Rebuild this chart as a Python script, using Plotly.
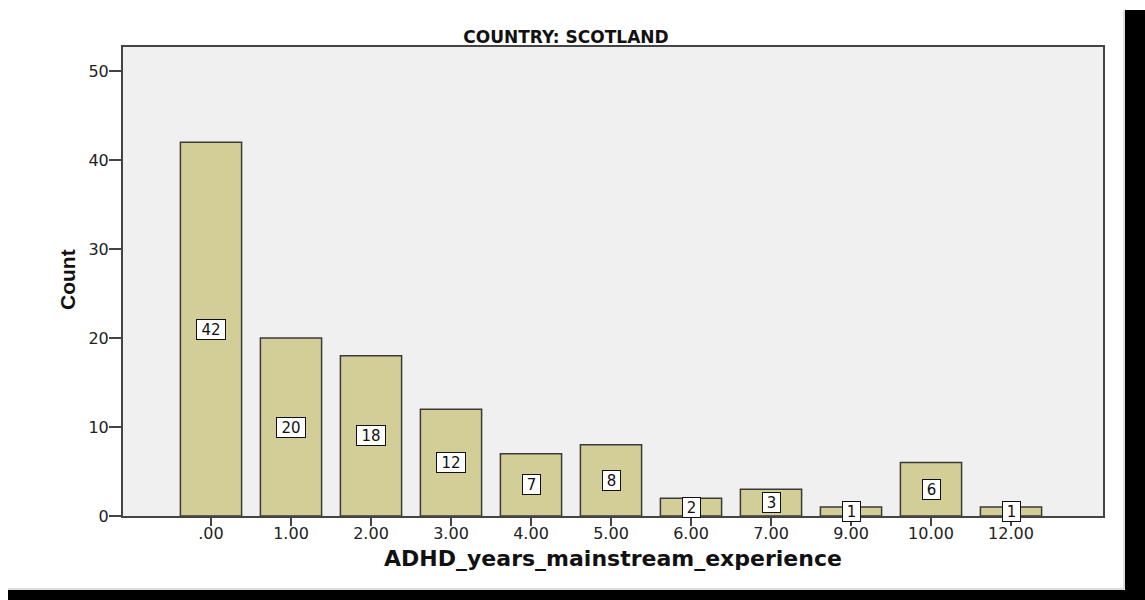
import plotly.graph_objects as go

# ---- data ----
categories = [".00", "1.00", "2.00", "3.00", "4.00", "5.00", "6.00", "7.00", "9.00", "10.00", "12.00"]
counts = [42, 20, 18, 12, 7, 8, 2, 3, 1, 6, 1]
y_ticks = [0, 10, 20, 30, 40, 50]

title_text = "COUNTRY: SCOTLAND"
x_title = "ADHD_years_mainstream_experience"
y_title = "Count"

W, H = 1145, 600
L, R, T, B = 123, 1103, 47, 516   # plot area in pixels


def px(x):
    return (x - L) / (R - L)


def py(y):
    return (B - y) / (B - T)


fig = go.Figure()
fig.add_trace(go.Bar(
    x=categories,
    y=counts,
    width=0.765,
    marker=dict(color="#D3CE98", line=dict(color="#3A3A3A", width=1.5)),
    hoverinfo="x+y",
))

# boxed value labels at the middle of each bar (category index positions)
for i, v in enumerate(counts):
    fig.add_annotation(
        x=i, y=v / 2, xref="x", yref="y",
        text=str(v), showarrow=False,
        width=24 if len(str(v)) > 1 else 13, height=15,
        font=dict(family="DejaVu Sans, Arial", size=15, color="#111111"),
        bgcolor="#FFFFFF", bordercolor="#111111", borderwidth=1, borderpad=2,
    )

# y axis title as rotated text
fig.add_annotation(
    x=px(67), y=py(280), xref="paper", yref="paper",
    text="<b>" + y_title + "</b>", textangle=-90, showarrow=False,
    font=dict(family="Liberation Sans Narrow, Arial Narrow, Liberation Sans, Arial", size=21, color="#111111"),
    xanchor="center", yanchor="middle",
)

# frame decoration (black bars at right and bottom)
fig.add_shape(type="line", xref="paper", yref="paper",
              x0=px(1124), x1=px(1124), y0=py(589), y1=py(10),
              line=dict(color="#BBBBBB", width=1))
fig.add_shape(type="line", xref="paper", yref="paper",
              x0=px(8), x1=px(1124), y0=py(589), y1=py(589),
              line=dict(color="#BBBBBB", width=1))
fig.add_shape(type="rect", xref="paper", yref="paper",
              x0=px(1125), x1=px(1145), y0=py(590), y1=py(10),
              fillcolor="#000000", line=dict(width=0), layer="above")
fig.add_shape(type="rect", xref="paper", yref="paper",
              x0=px(8), x1=px(1145), y0=py(600), y1=py(590),
              fillcolor="#000000", line=dict(width=0), layer="above")

fig.update_layout(
    width=W, height=H,
    margin=dict(l=L, r=W - R, t=T, b=H - B, autoexpand=False),
    paper_bgcolor="#FFFFFF",
    plot_bgcolor="#F0F0F0",
    showlegend=False,
    bargap=0.2,
    title=dict(
        text="<b>" + title_text + "</b>",
        x=px(566), xref="paper", xanchor="center",
        y=1 - 37 / H, yref="container", yanchor="middle",
        font=dict(family="DejaVu Sans, Arial", size=17, color="#111111"),
    ),
    xaxis=dict(
        type="category",
        categoryorder="array", categoryarray=categories,
        range=[-1.1, 11.15],
        showline=True, linecolor="#444444", linewidth=2, mirror=True,
        ticks="outside", ticklen=8, tickwidth=2, tickcolor="#444444",
        ticklabelstandoff=-6,
        showgrid=False, zeroline=False,
        tickfont=dict(family="DejaVu Sans, Arial", size=16, color="#222222"),
        title=dict(text="<b>" + x_title + "</b>", standoff=8,
                   font=dict(family="DejaVu Sans, Arial", size=22, color="#111111")),
        automargin=False,
    ),
    yaxis=dict(
        range=[0, 52.7],
        tickvals=y_ticks,
        showline=True, linecolor="#444444", linewidth=2, mirror=True,
        ticks="outside", ticklen=12, tickwidth=2, tickcolor="#444444",
        ticklabelstandoff=-3,
        showgrid=False, zeroline=False,
        tickfont=dict(family="DejaVu Sans, Arial", size=16, color="#222222"),
        automargin=False,
    ),
)

fig.write_html(
    "out.html",
    config={"displayModeBar": False},
    post_script=(
        "document.body.style.margin='0';"
        "document.body.style.overflow='hidden';"
        "document.documentElement.style.overflow='hidden';"
    ),
)
